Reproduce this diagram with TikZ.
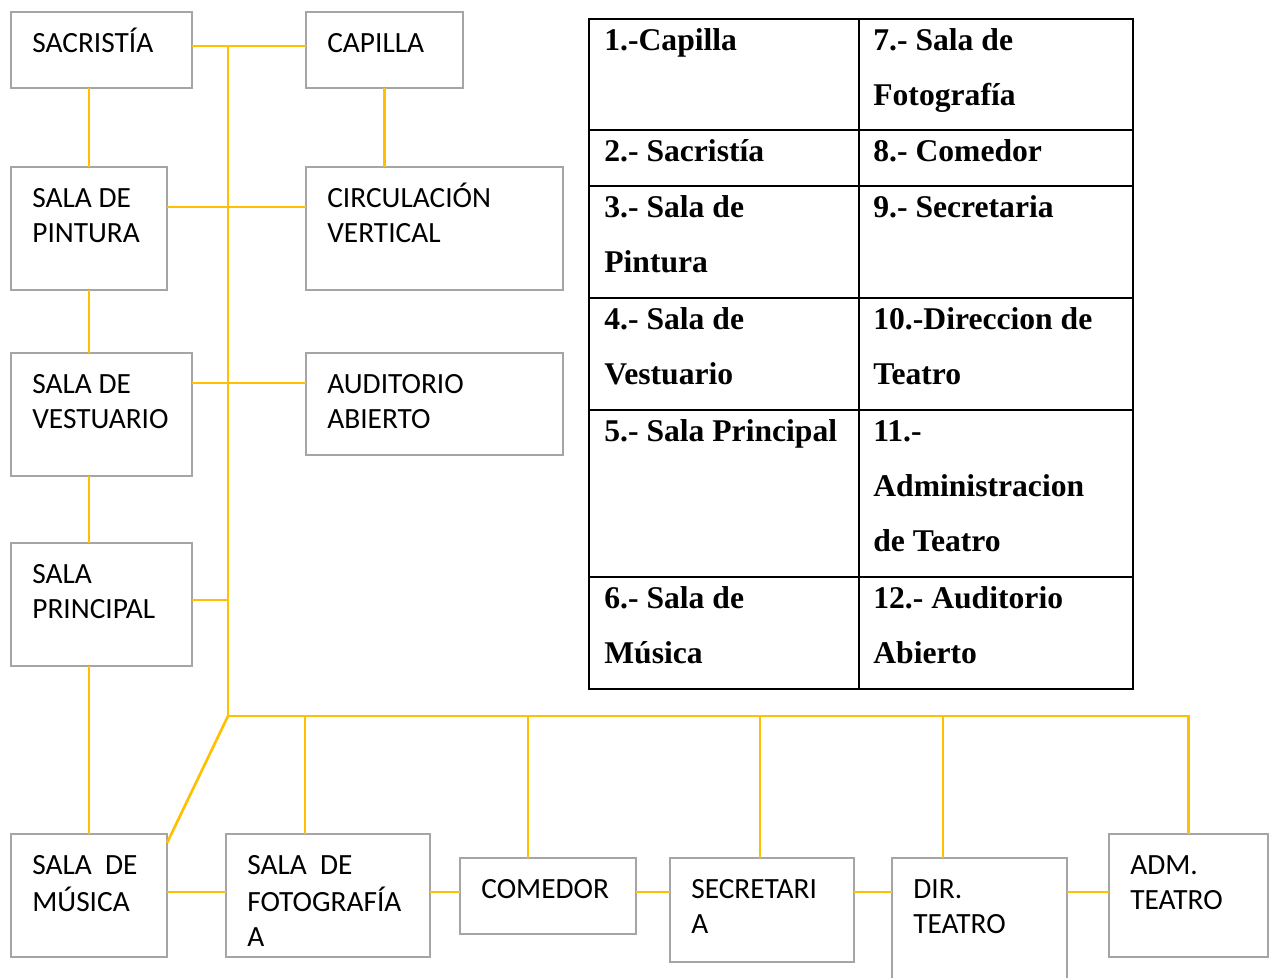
\documentclass[tikz,border=0pt]{standalone}
\usepackage{fontspec}
\setmainfont{Liberation Serif}
\newfontfamily\salafont{Carlito}
\usepackage{tikz}
\usepackage{xcolor}
\usetikzlibrary{fit}

\definecolor{enlace}{HTML}{FFC000}
\definecolor{borde}{HTML}{A5A5A5}

\tikzset{
  sala/.style={draw=borde,line width=1.5pt,inner sep=0pt,outer sep=0pt},
  salatxt/.style={anchor=north west,inner sep=0pt,align=left,
    font=\salafont\fontsize{16.7}{19.9}\selectfont},
  link/.style={draw=enlace,line width=1.5pt},
  tabla/.style={draw=black,line width=1.3pt},
  celda/.style={anchor=north west,inner sep=0pt,align=left,
    font=\bfseries\fontsize{18}{31.3}\selectfont}
}

\begin{document}
\begin{tikzpicture}[x=0.02cm,y=-0.02cm]
\useasboundingbox (0,0) rectangle (1276,978);

% salas
\node[sala,fit={(11,12) (192,88)}] (sacristia) {};
\node[sala,fit={(306,12) (463,88)}] (capilla) {};
\node[sala,fit={(11,167) (167,290)}] (pintura) {};
\node[sala,fit={(306,167) (563,290)}] (circulacion) {};
\node[sala,fit={(11,353) (192,476)}] (vestuario) {};
\node[sala,fit={(306,353) (563,455)}] (auditorio) {};
\node[sala,fit={(11,543) (192,666)}] (principal) {};
\node[sala,fit={(11,834) (167,957)}] (musica) {};
\node[sala,fit={(226,834) (430,957)}] (fotografia) {};
\node[sala,fit={(460,858) (636,934)}] (comedor) {};
\node[sala,fit={(670,858) (854,962)}] (secretaria) {};
\node[sala,fit={(892,858) (1067,995)}] (direccion) {};
\node[sala,fit={(1109,834) (1268,957)}] (adm) {};

\node[salatxt] (sacristia-t) at ([shift={(21,15.5)}]sacristia.north west) {\strut SACRISTÍA};
\node[salatxt] (capilla-t) at ([shift={(21,15.5)}]capilla.north west) {\strut CAPILLA};
\node[salatxt] (pintura-t) at ([shift={(21,15.5)}]pintura.north west) {\strut SALA DE\\PINTURA};
\node[salatxt] (circulacion-t) at ([shift={(21,15.5)}]circulacion.north west) {\strut CIRCULACIÓN\\VERTICAL};
\node[salatxt] (vestuario-t) at ([shift={(21,15.5)}]vestuario.north west) {\strut SALA DE\\VESTUARIO};
\node[salatxt] (auditorio-t) at ([shift={(21,15.5)}]auditorio.north west) {\strut AUDITORIO\\ABIERTO};
\node[salatxt] (principal-t) at ([shift={(21,15.5)}]principal.north west) {\strut SALA\\PRINCIPAL};
\node[salatxt] (musica-t) at ([shift={(21,15.5)}]musica.north west) {\strut SALA~~DE\\MÚSICA};
\node[salatxt] (fotografia-t) at ([shift={(21,15.5)}]fotografia.north west) {\strut SALA~~DE\\FOTOGRAFÍA\\A};
\node[salatxt] (comedor-t) at ([shift={(21,15.5)}]comedor.north west) {\strut COMEDOR};
\node[salatxt] (secretaria-t) at ([shift={(21,15.5)}]secretaria.north west) {\strut SECRETARI\\A};
\node[salatxt] (direccion-t) at ([shift={(21,15.5)}]direccion.north west) {\strut DIR.\\TEATRO};
\node[salatxt] (adm-t) at ([shift={(21,15.5)}]adm.north west) {\strut ADM.\\TEATRO};

% puntos de union
\coordinate (j1) at (228,46);
\coordinate (j2) at (228,207);
\coordinate (j3) at (228,383);
\coordinate (j4) at (228,600);
\coordinate (j5) at (228,716);
\coordinate (d1) at (305,716);
\coordinate (d2) at (528,716);
\coordinate (d3) at (760,716);
\coordinate (d4) at (943,716);
\coordinate (r) at (0,892);

% enlaces
\draw[link] (j1) -- (j5);
\draw[link] (sacristia.east |- j1) -- (capilla.west |- j1);
\draw[link] (pintura.east |- j2) -- (circulacion.west |- j2);
\draw[link] (vestuario.east |- j3) -- (auditorio.west |- j3);
\draw[link] (principal.east |- j4) -- (j4);
\draw[link] (sacristia.south -| pintura.north) -- (pintura.north);
\draw[link] (pintura.south) -- (pintura.south |- vestuario.north);
\draw[link] (vestuario.south -| pintura.south) -- (pintura.south |- principal.north);
\draw[link] (principal.south -| musica.north) -- (musica.north);
\draw[link] (capilla.south) -- (capilla.south |- circulacion.north);
\draw[link] (j5) -- ([yshift=-0.18cm]musica.north east);
\draw[link] (j5) -- (j5 -| adm.north) -- (adm.north);
\draw[link] (d1) -- (d1 |- fotografia.north);
\draw[link] (d2) -- (d2 |- comedor.north);
\draw[link] (d3) -- (d3 |- secretaria.north);
\draw[link] (d4) -- (d4 |- direccion.north);
\draw[link] (musica.east |- r) -- (fotografia.west |- r);
\draw[link] (fotografia.east |- r) -- (comedor.west |- r);
\draw[link] (comedor.east |- r) -- (secretaria.west |- r);
\draw[link] (secretaria.east |- r) -- (direccion.west |- r);
\draw[link] (direccion.east |- r) -- (adm.west |- r);

% tabla
\draw[tabla] (589,19) rectangle (1133,689);
\draw[tabla] (859,19) -- (859,689);
\foreach \y in {130,186,298,410,577}
  \draw[tabla] (589,\y) -- (1133,\y);

\node[celda] (c1) at (604,11.4) {\strut 1.-Capilla};
\node[celda] (c2) at (604,122.4) {\strut 2.- Sacristía};
\node[celda] (c3) at (604,178.4) {\strut 3.- Sala de\\Pintura};
\node[celda] (c4) at (604,290.4) {\strut 4.- Sala de\\Vestuario};
\node[celda] (c5) at (604,402.4) {\strut 5.- Sala Principal};
\node[celda] (c6) at (604,569.4) {\strut 6.- Sala de\\Música};
\node[celda] (c7) at (873,11.4) {\strut 7.- Sala de\\Fotografía};
\node[celda] (c8) at (873,122.4) {\strut 8.- Comedor};
\node[celda] (c9) at (873,178.4) {\strut 9.- Secretaria};
\node[celda] (c10) at (873,290.4) {\strut 10.-Direccion de\\Teatro};
\node[celda] (c11) at (873,402.4) {\strut 11.-\\Administracion\\de Teatro};
\node[celda] (c12) at (873,569.4) {\strut 12.- Auditorio\\Abierto};
\end{tikzpicture}
\end{document}
